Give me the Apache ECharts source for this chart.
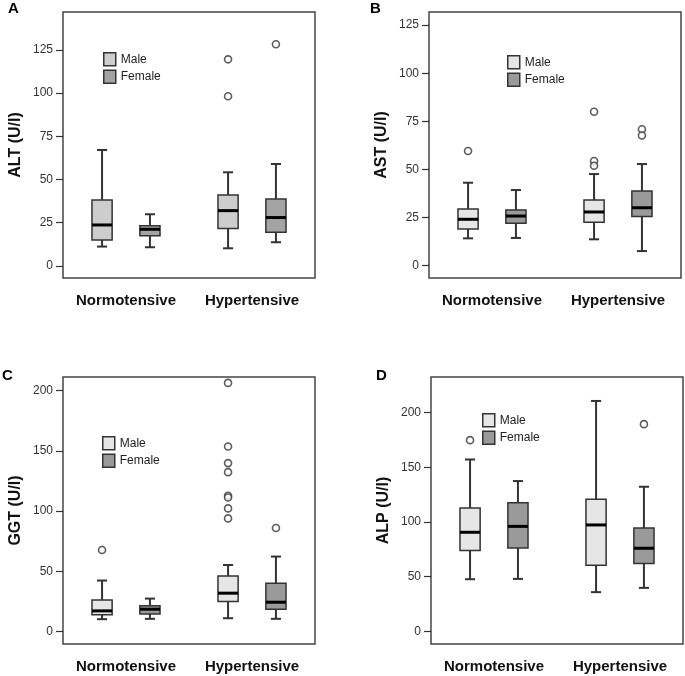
<!DOCTYPE html>
<html>
<head>
<meta charset="utf-8">
<script src="https://cdn.jsdelivr.net/npm/echarts@6/dist/echarts.min.js"></script>
<style>
	html, body { margin: 0; padding: 0; background: #fff; }
	#chart { width: 685px; height: 676px; }
</style>
</head>
<body>
<div id="chart"></div>
<script>
const categories = ['Normotensive', 'Hypertensive'];

// box values per category: [min, Q1, median, Q3, max]
const altMale = [[11.2, 15.0, 23.7, 38.2, 67.1], [10.2, 21.6, 32.0, 41.1, 54.2]];
const altFemale = [[10.8, 17.5, 21.2, 23.3, 29.9], [13.7, 19.5, 28.0, 38.8, 59.0]];
const astMale = [[14.2, 19.1, 24.1, 29.5, 43.1], [13.7, 22.5, 27.9, 34.1, 47.6]];
const astFemale = [[14.4, 22.0, 25.8, 28.9, 39.3], [7.6, 25.5, 30.1, 38.8, 52.8]];
const ggtMale = [[10.2, 13.8, 17.1, 26.2, 42.3], [11.0, 24.9, 31.8, 46.1, 55.2]];
const ggtFemale = [[10.5, 14.6, 18.5, 21.3, 27.3], [10.5, 18.5, 24.3, 40.1, 62.2]];
const alpMale = [[47.7, 73.9, 90.6, 112.8, 157.1], [35.9, 60.5, 97.3, 120.7, 210.6]];
const alpFemale = [[48.0, 76.3, 96.0, 117.6, 137.4], [39.8, 62.0, 76.0, 94.5, 132.2]];

// outliers: [category index, value]
const altMaleOut = [[1, 119.6], [1, 98.2]];
const altFemaleOut = [[1, 128.3]];
const astMaleOut = [[0, 59.6], [1, 80.0], [1, 54.4], [1, 51.9]];
const astFemaleOut = [[1, 70.9], [1, 67.6]];
const ggtMaleOut = [[0, 67.7], [1, 206.4], [1, 153.6], [1, 139.8], [1, 132.3], [1, 112.7], [1, 111.3], [1, 102.2], [1, 93.9]];
const ggtFemaleOut = [[1, 85.9]];
const alpMaleOut = [[0, 174.8]];
const alpFemaleOut = [[1, 189.4]];

// tick labels
const ticks125 = [0, 25, 50, 75, 100, 125];
const ticks200 = [0, 50, 100, 150, 200];

const font = '"Liberation Sans", Arial, sans-serif';

const panels = [
	{ letter: 'A', yName: 'ALT (U/l)', male: altMale, female: altFemale, maleOut: altMaleOut, femaleOut: altFemaleOut,
		ticks: ticks125, min: -7, max: 147,
		grid: { left: 63, top: 12, width: 252, height: 266 }, letterPos: [8, 1], legendPos: [103, 52],
		colors: ['#cdcdcd', '#a4a4a4'] },
	{ letter: 'B', yName: 'AST (U/l)', male: astMale, female: astFemale, maleOut: astMaleOut, femaleOut: astFemaleOut,
		ticks: ticks125, min: -6.4, max: 131.8,
		grid: { left: 429, top: 12, width: 252, height: 266 }, letterPos: [370, 1], legendPos: [507, 55],
		colors: ['#e6e6e6', '#9a9a9a'] },
	{ letter: 'C', yName: 'GGT (U/l)', male: ggtMale, female: ggtFemale, maleOut: ggtMaleOut, femaleOut: ggtFemaleOut,
		ticks: ticks200, min: -10.4, max: 211.3,
		grid: { left: 63, top: 377, width: 252, height: 267 }, letterPos: [2, 368], legendPos: [102, 436],
		colors: ['#e6e6e6', '#9a9a9a'] },
	{ letter: 'D', yName: 'ALP (U/l)', male: alpMale, female: alpFemale, maleOut: alpMaleOut, femaleOut: alpFemaleOut,
		ticks: ticks200, min: -11.5, max: 232.5,
		grid: { left: 431, top: 377, width: 252, height: 267 }, letterPos: [376, 368], legendPos: [482, 413],
		colors: ['#e6e6e6', '#9a9a9a'] },
];

// draws one box + whiskers, shifted left (-1) or right (+1) of the category centre
const boxRenderer = side => (params, api) => {
	const band = api.size([1, 0])[0];
	const cx = api.coord([api.value(0), 0])[0] + side * band * 0.19;
	const hw = band * 0.08;
	const cw = hw * 0.5;
	const y = i => api.coord([api.value(0), api.value(i)])[1];
	const yMin = y(1), yQ1 = y(2), yMed = y(3), yQ3 = y(4), yMax = y(5);
	const ln = { stroke: '#333', lineWidth: 2 };
	return {
		type: 'group',
		children: [
			{ type: 'line', shape: { x1: cx, y1: yQ3, x2: cx, y2: yMax }, style: ln },
			{ type: 'line', shape: { x1: cx, y1: yQ1, x2: cx, y2: yMin }, style: ln },
			{ type: 'line', shape: { x1: cx - cw, y1: yMax, x2: cx + cw, y2: yMax }, style: ln },
			{ type: 'line', shape: { x1: cx - cw, y1: yMin, x2: cx + cw, y2: yMin }, style: ln },
			{ type: 'rect', shape: { x: cx - hw, y: yQ3, width: hw * 2, height: yQ1 - yQ3 },
				style: { fill: api.visual('color'), stroke: '#333', lineWidth: 1.5 } },
			{ type: 'line', shape: { x1: cx - hw, y1: yMed, x2: cx + hw, y2: yMed }, style: { stroke: '#000', lineWidth: 3 } },
		],
	};
};

const option = {
	animation: false,
	backgroundColor: '#fff',
	title: panels.map(p => ({
		text: p.letter, left: p.letterPos[0], top: p.letterPos[1], padding: 0,
		textStyle: { fontFamily: font, fontSize: 15, fontWeight: 'bold', color: '#000' },
	})),
	legend: panels.map(p => ({
		left: p.legendPos[0], top: p.legendPos[1], orient: 'vertical', padding: 0,
		itemWidth: 12, itemHeight: 13, itemGap: 3, selectedMode: false, icon: 'rect',
		textStyle: { fontFamily: font, fontSize: 12, color: '#222' },
		data: [
			{ name: 'Male', itemStyle: { color: p.colors[0], borderColor: '#333', borderWidth: 1.5 } },
			{ name: 'Female', itemStyle: { color: p.colors[1], borderColor: '#333', borderWidth: 1.5 } },
		],
	})),
	grid: panels.map(p => Object.assign({ show: true, borderColor: '#444', borderWidth: 1.5 }, p.grid)),
	xAxis: panels.map((p, i) => ({
		type: 'category', gridIndex: i, data: categories,
		axisLine: { show: false, onZero: false },
		axisTick: { alignWithLabel: true, length: 9, lineStyle: { color: '#333', width: 1.5 } },
		axisLabel: { margin: 15, interval: 0, fontFamily: font, fontSize: 15, fontWeight: 'bold', color: '#111' },
	})),
	yAxis: panels.map((p, i) => ({
		type: 'value', gridIndex: i, min: p.min, max: p.max,
		name: p.yName, nameLocation: 'middle', nameGap: 39,
		nameTextStyle: { fontFamily: font, fontSize: 16, fontWeight: 'bold', color: '#111' },
		splitLine: { show: false },
		axisLine: { show: false },
		axisTick: { show: true, length: 7, customValues: p.ticks, lineStyle: { color: '#333', width: 1.2 } },
		axisLabel: { customValues: p.ticks, margin: 10, fontFamily: font, fontSize: 12, color: '#333' },
	})),
	series: [],
};

panels.forEach((p, i) => {
	const shift = p.grid.width * 0.095;
	[['Male', p.male, p.maleOut, -1, p.colors[0]], ['Female', p.female, p.femaleOut, 1, p.colors[1]]].forEach(([name, boxes, outs, side, color]) => {
		option.series.push({
			type: 'custom', name: name, xAxisIndex: i, yAxisIndex: i,
			itemStyle: { color: color },
			renderItem: boxRenderer(side),
			encode: { x: 0, y: [1, 2, 3, 4, 5] },
			data: boxes.map((b, c) => [c].concat(b)),
		});
		option.series.push({
			type: 'scatter', name: name + ' outliers', xAxisIndex: i, yAxisIndex: i,
			symbol: 'circle', symbolSize: 7, symbolOffset: [side * shift, 0],
			itemStyle: { color: '#fff', borderColor: '#333', borderWidth: 1.6 },
			data: outs,
			z: 3,
		});
	});
});

const myChart = echarts.init(document.getElementById('chart'));
myChart.setOption(option);
</script>
</body>
</html>
